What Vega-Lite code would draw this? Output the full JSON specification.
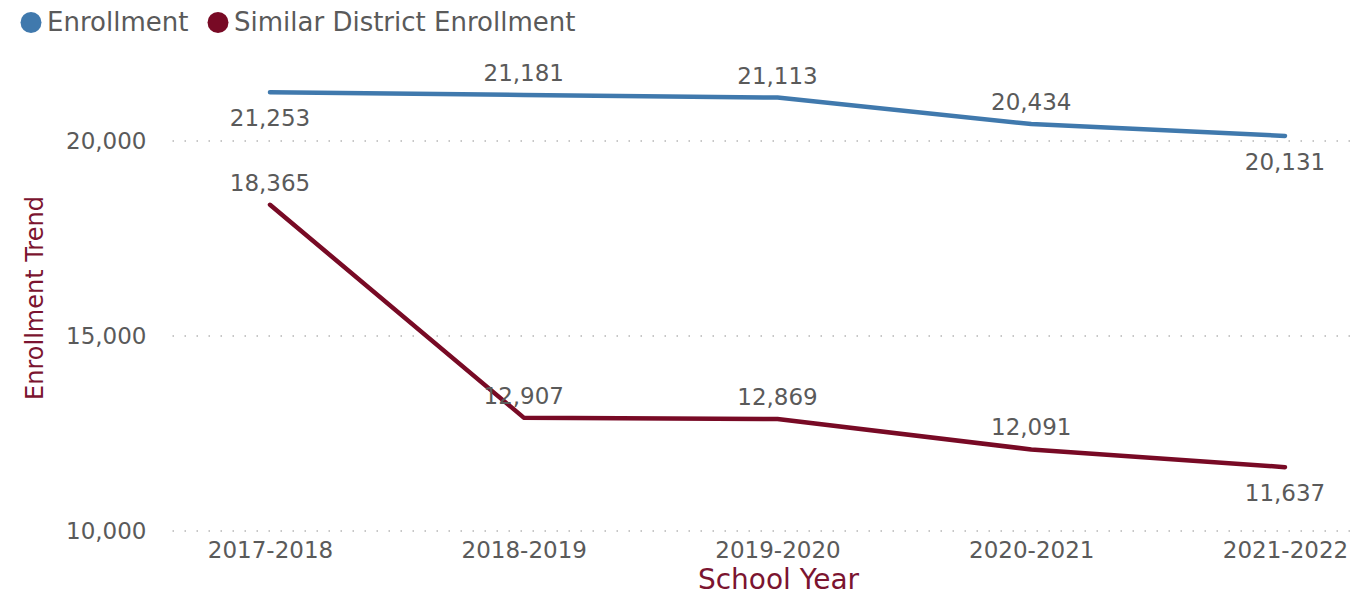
{
  "$schema": "https://vega.github.io/schema/vega-lite/v6.json",
  "width": 1185,
  "height": 487.5,
  "autosize": "none",
  "padding": {"left": 165, "top": 43.5, "right": 7, "bottom": 63},
  "background": "white",
  "config": {
    "view": {"stroke": null},
    "font": "DejaVu Sans"
  },
  "data": {
    "values": [
      {"year": "2017-2018", "series": "Enrollment", "value": 21253},
      {"year": "2018-2019", "series": "Enrollment", "value": 21181},
      {"year": "2019-2020", "series": "Enrollment", "value": 21113},
      {"year": "2020-2021", "series": "Enrollment", "value": 20434},
      {"year": "2021-2022", "series": "Enrollment", "value": 20131},
      {"year": "2017-2018", "series": "Similar District Enrollment", "value": 18365},
      {"year": "2018-2019", "series": "Similar District Enrollment", "value": 12907},
      {"year": "2019-2020", "series": "Similar District Enrollment", "value": 12869},
      {"year": "2020-2021", "series": "Similar District Enrollment", "value": 12091},
      {"year": "2021-2022", "series": "Similar District Enrollment", "value": 11637}
    ]
  },
  "layer": [
    {
      "data": {"values": [{"tick": 10000}, {"tick": 15000}, {"tick": 20000}]},
      "mark": {"type": "rule", "color": "#b5b5b5", "strokeDash": [1.5, 10.5], "strokeWidth": 1.5},
      "encoding": {
        "y": {"field": "tick", "type": "quantitative"}
      }
    },
    {
      "mark": {"type": "line", "strokeWidth": 4.5, "interpolate": "linear", "strokeCap": "round", "strokeJoin": "round"},
      "encoding": {
        "x": {
          "field": "year",
          "type": "ordinal",
          "sort": null,
          "scale": {"type": "point", "range": [105, 1120], "padding": 0},
          "axis": {
            "title": "School Year",
            "titleColor": "#7b1430",
            "titleFontSize": 28,
            "titleFontWeight": "normal",
            "titleX": 613,
            "titlePadding": 4,
            "labelColor": "#5a5a5a",
            "labelFontSize": 23,
            "labelPadding": 8,
            "labelAngle": 0,
            "domain": false,
            "ticks": false,
            "grid": false
          }
        },
        "y": {
          "field": "value",
          "type": "quantitative",
          "scale": {"domain": [10000, 22500], "nice": false, "zero": false},
          "axis": {
            "title": "Enrollment Trend",
            "titleColor": "#7b1430",
            "titleFontSize": 24,
            "titleFontWeight": "normal",
            "titlePadding": 18,
            "titleY": 254,
            "values": [10000, 15000, 20000],
            "format": ",d",
            "labelColor": "#5a5a5a",
            "labelFontSize": 23,
            "labelPadding": 19,
            "domain": false,
            "ticks": false,
            "grid": false
          }
        },
        "color": {
          "field": "series",
          "type": "nominal",
          "scale": {"domain": ["Enrollment", "Similar District Enrollment"], "range": ["#4079ad", "#780a25"]},
          "legend": {
            "title": null,
            "orient": "none",
            "direction": "horizontal",
            "legendX": -147,
            "legendY": -34,
            "symbolType": "circle",
            "symbolSize": 440,
            "symbolStrokeWidth": 0,
            "labelFontSize": 26,
            "labelColor": "#5a5a5a",
            "labelOffset": 3,
            "labelLimit": 600,
            "columnPadding": 16,
            "encode": {
              "symbols": {"update": {"fill": {"scale": "color", "field": "value"}, "fillOpacity": {"value": 1}}}
            }
          }
        }
      }
    },
    {
      "transform": [
        {"filter": "!((datum.series == 'Enrollment' && (datum.year == '2017-2018' || datum.year == '2021-2022')) || (datum.series != 'Enrollment' && datum.year == '2021-2022'))"}
      ],
      "mark": {"type": "text", "dy": -21, "fontSize": 23, "color": "#5a5a5a", "baseline": "middle"},
      "encoding": {
        "x": {"field": "year", "type": "ordinal", "sort": null},
        "y": {"field": "value", "type": "quantitative"},
        "text": {"field": "value", "type": "quantitative", "format": ","}
      }
    },
    {
      "transform": [
        {"filter": "(datum.series == 'Enrollment' && (datum.year == '2017-2018' || datum.year == '2021-2022')) || (datum.series != 'Enrollment' && datum.year == '2021-2022')"}
      ],
      "mark": {"type": "text", "dy": 27, "fontSize": 23, "color": "#5a5a5a", "baseline": "middle"},
      "encoding": {
        "x": {"field": "year", "type": "ordinal", "sort": null},
        "y": {"field": "value", "type": "quantitative"},
        "text": {"field": "value", "type": "quantitative", "format": ","}
      }
    }
  ]
}
